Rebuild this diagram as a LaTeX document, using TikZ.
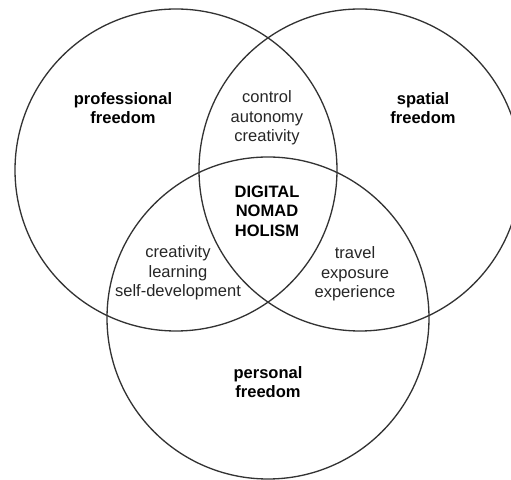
\documentclass[tikz,border=0pt]{standalone}
\usepackage{fontspec}
\setmainfont{Liberation Sans}

\tikzset{
  ring/.style={draw=black!80, line width=0.75pt},
  lbl/.style={align=center, text=black!85, font=\fontsize{9.4}{11.1}\selectfont},
  head/.style={lbl, text=black, font=\fontsize{9.4}{11.1}\selectfont\bfseries}
}

\begin{document}
\begin{tikzpicture}[x=0.02cm,y=0.02cm]
\useasboundingbox (0,0) rectangle (511,480);
\clip (0,0) rectangle (511,480);

% the three freedoms
\draw[ring] (176,310) circle(161);
\draw[ring] (360,310) circle(161);
\draw[ring] (268,162) circle(161);

\node[head] (prof) at (123,372) {professional\\freedom};
\node[head] (spat) at (423,372) {spatial\\freedom};
\node[head] (pers) at (268,98) {personal\\freedom};

% overlaps
\node[lbl] (profspat) at (267,362) {control\\autonomy\\creativity};
\node[lbl] (profpers) at (178,207) {creativity\\learning\\self-development};
\node[lbl] (spatpers) at (355,206) {travel\\exposure\\experience};
\node[head] (core) at (267,269) {DIGITAL\\NOMAD\\HOLISM};

\end{tikzpicture}
\end{document}
